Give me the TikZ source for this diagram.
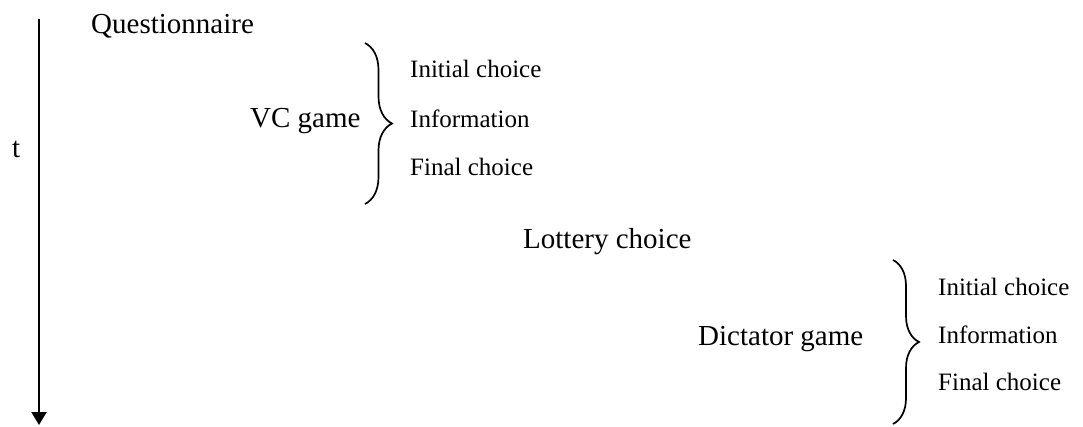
\documentclass[tikz,border=0pt]{standalone}
\usepackage{fontspec}
\setmainfont{Liberation Serif}
\usetikzlibrary{arrows.meta,decorations.pathreplacing}
\begin{document}
\begin{tikzpicture}[x=1pt,y=-1pt,
  big/.style={inner sep=0pt,anchor=base west,font=\fontsize{29}{33}\selectfont},
  small/.style={inner sep=0pt,anchor=base west,font=\fontsize{25}{30}\selectfont},
  bracel/.style={line width=1.7pt,decorate,decoration={brace,amplitude=#1}}]
\useasboundingbox (0,0) rectangle (1083,426);
% time axis
\coordinate (ttop) at (39,19);
\coordinate (tbot) at (39,425);
\draw[line width=2pt,-{Triangle[width=15pt,length=13pt]}] (ttop) -- (tbot);
\node[big] (t) at (12,157) {t};
\node[big] (q) at (91,33) {Questionnaire};
% VC game
\node[big] (vc) at (250,127) {VC game};
\coordinate (b1top) at (365,43);
\coordinate (b1bot) at (365,204);
\draw[bracel=27pt] (b1top) -- (b1bot);
\node[small] (vc1) at (410,77) {Initial choice};
\node[small] (vc2) at (410,127) {Information};
\node[small] (vc3) at (410,175) {Final choice};
% lottery
\node[big] (lot) at (523,248) {Lottery choice};
% dictator game
\node[big] (dg) at (698,345) {Dictator game};
\coordinate (b2top) at (893,260);
\coordinate (b2bot) at (893,424);
\draw[bracel=26pt] (b2top) -- (b2bot);
\node[small] (dg1) at (938,295) {Initial choice};
\node[small] (dg2) at (938,343) {Information};
\node[small] (dg3) at (938,390) {Final choice};
\end{tikzpicture}
\end{document}
